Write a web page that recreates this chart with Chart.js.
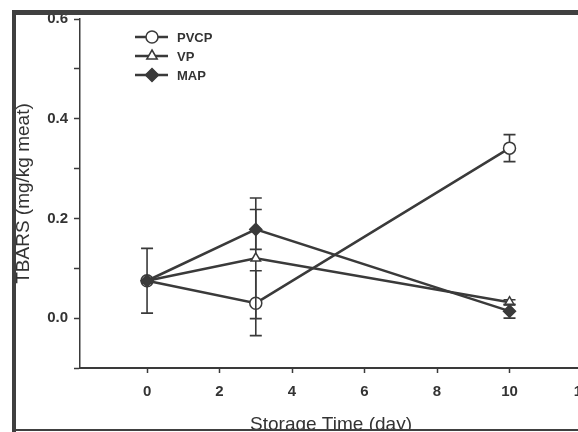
<!DOCTYPE html>
<html>
<head>
<meta charset="utf-8">
<title>TBARS</title>
<script src="https://cdn.jsdelivr.net/npm/chart.js@4.4.0/dist/chart.umd.min.js"></script>
<style>
    html, body { margin: 0; padding: 0; background: #fff; overflow: hidden; width: 578px; height: 432px; }
    #wrap { position: relative; width: 620px; height: 440px; }
</style>
</head>
<body>
<div id="wrap"><canvas id="tbarsChart" width="620" height="440"></canvas></div>
<script>
// Data
const days = [0, 3, 10];
const seriesNames = ['PVCP', 'VP', 'MAP'];
const pvcp = [0.075, 0.030, 0.341];
const pvcpErr = [0, 0.065, 0.027];
const vp = [0.075, 0.120, 0.032];
const vpErr = [0, 0.121, 0.005];
const map = [0.075, 0.178, 0.014];
const mapErr = [0.065, 0.040, 0.014];
const xTicks = [0, 2, 4, 6, 8, 10, 12];
const yLabels = ['0.0', '0.2', '0.4', '0.6'];

const ink = '#3a3a3a';
const fontFamily = "'Liberation Sans', Arial, Helvetica, sans-serif";

function toPoints(ys) {
    return days.map((d, i) => ({ x: d, y: ys[i] }));
}

// Error bars, drawn just before each dataset so its own markers sit on top
const errorBars = {
    id: 'errorBars',
    beforeDatasetDraw(chart, args) {
        const ds = chart.data.datasets[args.index];
        const errs = ds.errors || [];
        const yScale = chart.scales.y;
        const ctx = chart.ctx;
        ctx.save();
        ctx.strokeStyle = ink;
        ctx.lineWidth = 1.6;
        args.meta.data.forEach((pt, i) => {
            const e = errs[i];
            if (!e) return;
            const v = ds.data[i].y;
            const top = yScale.getPixelForValue(v + e);
            const bot = yScale.getPixelForValue(v - e);
            ctx.beginPath();
            ctx.moveTo(pt.x, top); ctx.lineTo(pt.x, bot);
            ctx.moveTo(pt.x - 6, top); ctx.lineTo(pt.x + 6, top);
            ctx.moveTo(pt.x - 6, bot); ctx.lineTo(pt.x + 6, bot);
            ctx.stroke();
        });
        ctx.restore();
    }
};

function drawMarker(ctx, style, fill, x, y) {
    ctx.beginPath();
    if (style === 'circle') {
        ctx.arc(x, y, 6, 0, Math.PI * 2);
    } else if (style === 'triangle') {
        ctx.moveTo(x, y - 6);
        ctx.lineTo(x + 5.2, y + 3);
        ctx.lineTo(x - 5.2, y + 3);
        ctx.closePath();
    } else {
        ctx.moveTo(x, y - 6.5);
        ctx.lineTo(x + 6.5, y);
        ctx.lineTo(x, y + 6.5);
        ctx.lineTo(x - 6.5, y);
        ctx.closePath();
    }
    ctx.fillStyle = fill;
    ctx.fill();
    ctx.stroke();
}

// Legend with line + marker, plus the scanned page frame
const legendAndFrame = {
    id: 'legendAndFrame',
    afterDraw(chart) {
        const ctx = chart.ctx;
        ctx.save();
        const rows = [37, 56, 75];
        ctx.strokeStyle = ink;
        ctx.font = 'bold 13px ' + fontFamily;
        ctx.textBaseline = 'middle';
        ctx.textAlign = 'left';
        seriesNames.forEach((name, i) => {
            const ds = chart.data.datasets.find(d => d.label === name);
            const y = rows[i];
            ctx.lineWidth = 2.5;
            ctx.beginPath();
            ctx.moveTo(135, y); ctx.lineTo(168, y);
            ctx.stroke();
            ctx.lineWidth = 1.5;
            drawMarker(ctx, ds.pointStyle, ds.pointBackgroundColor, 152, y);
            ctx.fillStyle = '#333';
            ctx.fillText(name, 177, y + 1);
        });

        // frame
        ctx.fillStyle = '#fff';
        ctx.fillRect(0, 431, chart.width, chart.height - 431);
        ctx.fillRect(0, 0, chart.width, 10);
        ctx.strokeStyle = '#404040';
        ctx.lineWidth = 4;
        ctx.beginPath(); ctx.moveTo(14, 10); ctx.lineTo(14, 432); ctx.stroke();
        ctx.lineWidth = 5;
        ctx.beginPath(); ctx.moveTo(12, 12.5); ctx.lineTo(chart.width, 12.5); ctx.stroke();
        ctx.lineWidth = 2;
        ctx.beginPath(); ctx.moveTo(12, 430); ctx.lineTo(chart.width, 430); ctx.stroke();
        ctx.restore();
    }
};

function makeDataset(label, values, errors, style, fill, order) {
    return {
        label: label,
        data: toPoints(values),
        errors: errors,
        showLine: true,
        borderColor: ink,
        borderWidth: 2.5,
        pointStyle: style,
        pointRadius: style === 'triangle' ? 5.5 : 6,
        pointBorderWidth: 1.5,
        pointBorderColor: ink,
        pointBackgroundColor: fill,
        tension: 0,
        order: order
    };
}

document.addEventListener('DOMContentLoaded', () => {
    const ctx = document.getElementById('tbarsChart').getContext('2d');
    new Chart(ctx, {
        type: 'scatter',
        data: {
            datasets: [
                makeDataset('PVCP', pvcp, pvcpErr, 'circle', '#ffffff', 2),
                makeDataset('VP', vp, vpErr, 'triangle', '#ffffff', 1),
                makeDataset('MAP', map, mapErr, 'rectRot', ink, 0)
            ]
        },
        options: {
            responsive: false,
            animation: false,
            layout: { padding: { left: 0, right: 38, top: 19, bottom: 0 } },
            plugins: {
                legend: { display: false },
                tooltip: { enabled: false }
            },
            scales: {
                x: {
                    type: 'linear',
                    min: -1.85,
                    max: 12,
                    afterFit: s => { s.height = 72; },
                    afterBuildTicks: s => { s.ticks = xTicks.map(v => ({ value: v })); },
                    grid: { drawOnChartArea: false, tickLength: 5, tickColor: ink, tickWidth: 1.5 },
                    border: { color: ink, width: 2 },
                    ticks: {
                        autoSkip: false,
                        maxRotation: 0,
                        color: '#333',
                        padding: 10,
                        font: { family: fontFamily, size: 15, weight: 'bold' },
                        callback: v => String(v)
                    },
                    title: {
                        display: true,
                        text: 'Storage Time (day)',
                        color: '#333',
                        font: { family: fontFamily, size: 19 },
                        padding: { top: 0, bottom: 4 }
                    }
                },
                y: {
                    min: -0.1,
                    max: 0.6,
                    afterFit: s => { s.width = 80; },
                    ticks: {
                        stepSize: 0.1,
                        color: '#333',
                        padding: 6,
                        font: { family: fontFamily, size: 15, weight: 'bold' },
                        callback: v => {
                            const lbl = Math.abs(Math.round(v * 10) / 10).toFixed(1);
                            return (v > -0.05 && yLabels.includes(lbl)) ? lbl : '';
                        }
                    },
                    grid: { drawOnChartArea: false, tickLength: 6, tickColor: ink, tickWidth: 1.5 },
                    border: { color: ink, width: 1.5 },
                    title: {
                        display: true,
                        text: 'TBARS (mg/kg meat)',
                        color: '#333',
                        font: { family: fontFamily, size: 19 },
                        padding: { top: 12, bottom: 0 }
                    }
                }
            }
        },
        plugins: [errorBars, legendAndFrame]
    });
});
</script>
</body>
</html>
